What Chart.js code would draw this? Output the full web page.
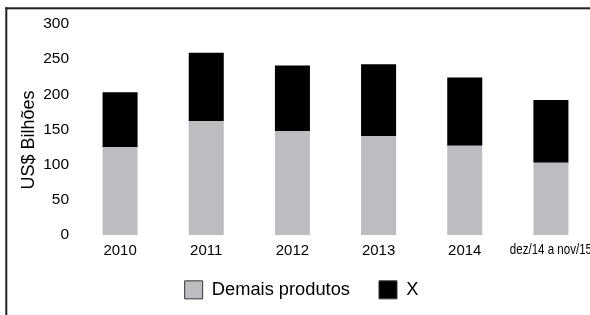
<!DOCTYPE html>
<html><head><meta charset="utf-8">
<script src="https://cdn.jsdelivr.net/npm/chart.js@4.4.1/dist/chart.umd.min.js"></script>
<style>
html,body{margin:0;padding:0;background:#fff;overflow:hidden;width:590px;height:315px}
#wrap{position:absolute;left:0;top:0;width:600px;height:315px}
</style></head>
<body><div id="wrap"><canvas id="c" width="600" height="315"></canvas></div>
<script>
const categories = ['2010', '2011', '2012', '2013', '2014', 'dez/14 a nov/15'];
const demaisProdutos = [125, 162, 148, 141, 127, 103];
const produtoX = [78, 97, 93, 102, 97, 89];
const seriesNames = ['Demais produtos', 'X'];
const yTicks = [0, 50, 100, 150, 200, 250, 300];
const yTitle = 'US$ Bilhões';

const FONT = '"Liberation Sans", Arial, sans-serif';
const CONDENSED_INDEX = 5;

const framePlugin = {
  id: 'frame',
  beforeDraw(chart) {
    const ctx = chart.ctx;
    ctx.save();
    ctx.fillStyle = '#fff';
    ctx.fillRect(0, 0, chart.width, chart.height);
    ctx.restore();
  },
  afterDraw(chart) {
    const ctx = chart.ctx;
    ctx.save();
    // frame lines
    ctx.fillStyle = '#222';
    ctx.fillRect(5.3, 7.3, 2, 320);
    ctx.fillRect(5.3, 7.3, 600, 2);
    // y axis title
    ctx.save();
    ctx.translate(29, 140);
    ctx.rotate(-Math.PI / 2);
    ctx.font = '18px ' + FONT;
    ctx.fillStyle = '#000';
    ctx.textAlign = 'center';
    ctx.textBaseline = 'middle';
    ctx.fillText(yTitle, 0, 0);
    ctx.restore();
    // condensed category label (narrow font as in the original)
    const xs = chart.scales.x;
    const px = xs.getPixelForTick(CONDENSED_INDEX);
    ctx.translate(px, 249.5);
    ctx.scale(0.77, 1);
    ctx.font = '15px ' + FONT;
    ctx.fillStyle = '#000';
    ctx.textAlign = 'center';
    ctx.textBaseline = 'middle';
    ctx.fillText(categories[CONDENSED_INDEX], 0, 0);
    ctx.restore();
  }
};

new Chart(document.getElementById('c'), {
  type: 'bar',
  data: {
    labels: categories,
    datasets: [
      { label: seriesNames[0], data: demaisProdutos, backgroundColor: '#bcbdc0', borderWidth: 0 },
      { label: seriesNames[1], data: produtoX, backgroundColor: '#000000', borderWidth: 0 }
    ]
  },
  options: {
    responsive: false,
    animation: false,
    devicePixelRatio: 1,
    layout: { padding: { top: 24, right: 6, bottom: 6, left: 9 } },
    datasets: { bar: { categoryPercentage: 1, barPercentage: 0.4065 } },
    scales: {
      x: {
        stacked: true,
        grid: { display: false, drawTicks: false },
        border: { display: false },
        ticks: {
          autoSkip: false, maxRotation: 0, minRotation: 0,
          mirror: true, padding: -24.5, color: '#000',
          font: { family: FONT, size: 15 },
          callback: (v, i) => i === CONDENSED_INDEX ? '' : categories[i]
        },
        afterFit: (s) => { s.height = 16.5; }
      },
      y: {
        stacked: true,
        min: yTicks[0], max: yTicks[yTicks.length - 1],
        grid: { display: false, drawTicks: false },
        border: { display: false },
        ticks: { stepSize: yTicks[1] - yTicks[0], padding: 8, color: '#000', font: { family: FONT, size: 15.5 } },
        afterFit: (s) => { s.width = 68; }
      }
    },
    plugins: {
      tooltip: { enabled: false },
      legend: {
        position: 'bottom',
        labels: {
          boxWidth: 18, boxHeight: 18, padding: 29, color: '#000',
          font: { family: FONT, size: 18.3 },
          generateLabels(chart) {
            const items = Chart.defaults.plugins.legend.labels.generateLabels(chart);
            items.forEach(it => { it.lineWidth = 1; it.strokeStyle = '#333'; });
            return items;
          }
        }
      }
    }
  },
  plugins: [framePlugin]
});
</script>
</body></html>
